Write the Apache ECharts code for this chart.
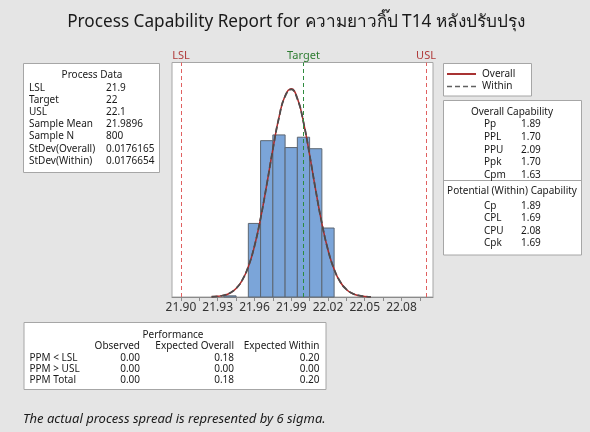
<!DOCTYPE html>
<html><head><meta charset="utf-8">
<script src="https://cdn.jsdelivr.net/npm/echarts@6/dist/echarts.min.js"></script>
<style>html,body{margin:0;padding:0;background:#e5e5e5}#c{width:590px;height:432px}</style>
</head><body><div id="c"></div>
<script>
const titleText = 'Process Capability Report for ความยาวกิ๊ป T14 หลังปรับปรุง';
const binStarts = [21.935, 21.955, 21.965, 21.975, 21.985, 21.995, 22.005, 22.015];
const binWidth = 0.01;
const binCounts = [1, 64, 136, 141, 130, 139, 129, 60];
const curveX = [21.925,21.930,21.935,21.940,21.945,21.950,21.955,21.960,21.965,21.970,21.975,21.980,21.985,21.990,21.995,22.000,22.005,22.010,22.015,22.020,22.025,22.030,22.035,22.040,22.045,22.050,22.055];
const overallCurve = [0.218,0.593,1.486,3.441,7.35,14.49,26.33,44.16,68.35,97.58,128.5,156.2,175.1,181.15,172.9,152.2,123.7,92.68,64.08,40.88,24.06,13.06,6.545,3.024,1.290,0.507,0.184];
const withinCurve = [0.226,0.610,1.521,3.507,7.459,14.65,26.53,44.37,68.51,97.62,128.4,155.9,174.6,180.6,172.4,151.9,123.6,92.75,64.26,41.09,24.26,13.21,6.646,3.084,1.322,0.522,0.191];
const tickLabelValues = [21.90, 21.93, 21.96, 21.99, 22.02, 22.05, 22.08];
const tickValues = [21.900,21.915,21.930,21.945,21.960,21.975,21.990,22.005,22.020,22.035,22.050,22.065,22.080,22.095];
const specNames = ['LSL', 'Target', 'USL'];
const specValues = [21.9, 22.0, 22.1];
const processDataLabels = ['LSL','Target','USL','Sample Mean','Sample N','StDev(Overall)','StDev(Within)'];
const processDataValues = ['21.9','22','22.1','21.9896','800','0.0176165','0.0176654'];
const legendNames = ['Overall', 'Within'];
const overallCapLabels = ['Pp','PPL','PPU','Ppk','Cpm'];
const overallCapValues = ['1.89','1.70','2.09','1.70','1.63'];
const withinCapLabels = ['Cp','CPL','CPU','Cpk'];
const withinCapValues = ['1.89','1.69','2.08','1.69'];
const perfColumns = ['Observed','Expected Overall','Expected Within'];
const perfRows = ['PPM < LSL','PPM > USL','PPM Total'];
const perfObserved = ['0.00','0.00','0.00'];
const perfExpOverall = ['0.18','0.00','0.18'];
const perfExpWithin = ['0.20','0.00','0.20'];
const footnote = 'The actual process spread is represented by 6 sigma.';

const FONT = '"Noto Sans", "Open Sans", sans-serif';
const TXT = '#1a1a1a';
const BORDER = '#a6a6a6';
const chart = echarts.init(document.getElementById('c'));

function txt(x, y, s, opt) {
  opt = opt || {};
  return { type: 'text', x: x, y: y, silent: true,
    style: { text: s, fill: opt.color || TXT, font: (opt.style || 'normal') + ' ' + (opt.size || 10) + 'px ' + FONT,
      textAlign: opt.align || 'left', textVerticalAlign: 'middle' } };
}
function box(x, y, w, h) {
  return { type: 'rect', shape: { x: x, y: y, width: w, height: h }, silent: true,
    style: { fill: '#fff', stroke: BORDER, lineWidth: 1 } };
}
const g = [];
g.push(txt(296, 22, titleText, { size: 17.2, align: 'center' }));
// Process data
g.push(box(23.5, 63.5, 136, 109));
g.push(txt(92, 75, 'Process Data', { align: 'center' }));
processDataLabels.forEach((l, i) => {
  g.push(txt(29, 88.2 + i * 12.1, l));
  g.push(txt(106, 88.2 + i * 12.1, processDataValues[i]));
});
// Legend
g.push(box(443.5, 63.5, 88, 32.5));
g.push({ type: 'line', silent: true, shape: { x1: 447, y1: 74, x2: 476, y2: 74 }, style: { stroke: '#a83232', lineWidth: 2 } });
g.push({ type: 'line', silent: true, shape: { x1: 447, y1: 86.5, x2: 476, y2: 86.5 }, style: { stroke: '#606060', lineWidth: 1.5, lineDash: [5, 3] } });
g.push(txt(482, 74, legendNames[0]));
g.push(txt(482, 86.5, legendNames[1]));
// Capability
g.push(box(443.5, 100.5, 138, 154.5));
g.push({ type: 'line', silent: true, shape: { x1: 443.5, y1: 180.5, x2: 581.5, y2: 180.5 }, style: { stroke: BORDER, lineWidth: 1 } });
g.push(txt(512, 112.3, 'Overall Capability', { align: 'center' }));
overallCapLabels.forEach((l, i) => {
  g.push(txt(484, 124.5 + i * 12.6, l));
  g.push(txt(521, 124.5 + i * 12.6, overallCapValues[i]));
});
g.push(txt(512, 191, 'Potential (Within) Capability', { align: 'center' }));
withinCapLabels.forEach((l, i) => {
  g.push(txt(484, 206 + i * 12.5, l));
  g.push(txt(521, 206 + i * 12.5, withinCapValues[i]));
});
// Performance
g.push(box(24, 322.5, 302, 67));
g.push(txt(173, 335, 'Performance', { align: 'center' }));
const colX = [140, 234, 319.5];
perfColumns.forEach((c, i) => g.push(txt(colX[i], 346, c, { align: 'right' })));
perfRows.forEach((r, i) => {
  const y = 357.7 + i * 11.3;
  g.push(txt(29.5, y, r));
  g.push(txt(colX[0], y, perfObserved[i], { align: 'right' }));
  g.push(txt(colX[1], y, perfExpOverall[i], { align: 'right' }));
  g.push(txt(colX[2], y, perfExpWithin[i], { align: 'right' }));
});
g.push(txt(23, 419, footnote, { size: 13, style: 'italic' }));

const specColors = ['#e06060', '#2e8b3e', '#e06060'];
const specLabelColors = ['#b03a3a', '#2e7d32', '#b03a3a'];

chart.setOption({
  backgroundColor: '#e5e5e5',
  animation: false,
  grid: { left: 172, right: 157, top: 62.5, bottom: 135, show: true, backgroundColor: '#fff', borderColor: BORDER, borderWidth: 1 },
  xAxis: {
    type: 'value', min: 21.8927, max: 22.1057,
    axisLine: { show: true, lineStyle: { color: '#8a8a8a' } },
    axisTick: { show: true, customValues: tickValues, length: 4, lineStyle: { color: '#8a8a8a' } },
    axisLabel: { customValues: tickLabelValues, formatter: v => v.toFixed(2), color: '#333', fontSize: 12, fontFamily: FONT, margin: 5 },
    splitLine: { show: false }
  },
  yAxis: { type: 'value', min: 0, max: 204, show: false },
  series: [
    { type: 'line', z: 1, data: [], symbol: 'none', silent: true,
      markLine: { symbol: ['none', 'none'], silent: true,
        data: specNames.map((n, i) => ({ xAxis: specValues[i], name: n,
          lineStyle: { color: specColors[i], type: [4, 3], width: 1 },
          label: { formatter: n, color: specLabelColors[i] } })),
        label: { position: 'end', distance: 1, fontSize: 11, fontFamily: FONT } } },
    { type: 'custom', z: 2, silent: true,
      data: binStarts.map((s, i) => [s, s + binWidth, binCounts[i]]),
      encode: { x: [0, 1], y: 2 },
      renderItem: (params, api) => {
        const p0 = api.coord([api.value(0), 0]);
        const p1 = api.coord([api.value(1), api.value(2)]);
        return { type: 'rect', shape: { x: p0[0], y: p1[1], width: p1[0] - p0[0], height: p0[1] - p1[1] },
          style: { fill: '#7ba5d9', stroke: '#5c6672', lineWidth: 1 } };
      } },
    { type: 'line', z: 3, name: legendNames[0], data: curveX.map((x, i) => [x, overallCurve[i]]), smooth: true, symbol: 'none', silent: true,
      lineStyle: { color: '#b02a2a', width: 1.5 } },
    { type: 'line', z: 4, name: legendNames[1], data: curveX.map((x, i) => [x, withinCurve[i]]), smooth: true, symbol: 'none', silent: true,
      lineStyle: { color: '#4d4d4d', width: 1.8, type: [6, 3] } }
  ],
  graphic: g
});
</script></body></html>
